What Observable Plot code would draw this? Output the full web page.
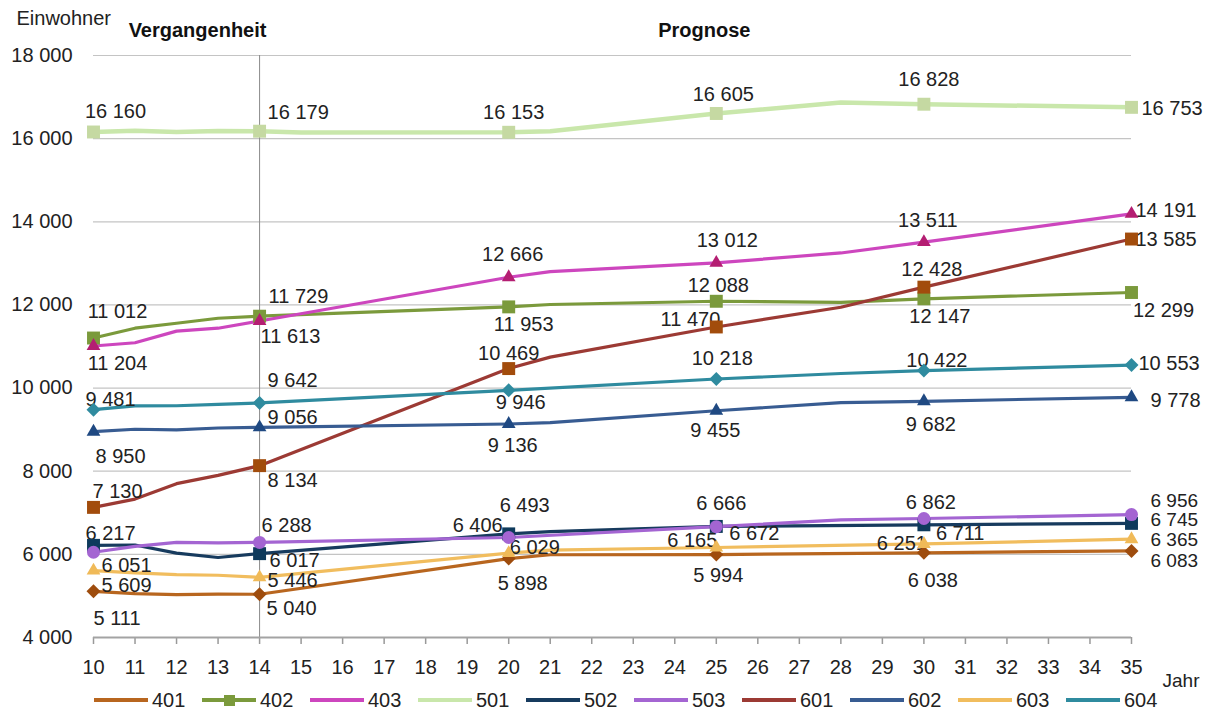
<!DOCTYPE html>
<html><head><meta charset="utf-8">
<script src="https://cdn.jsdelivr.net/npm/d3@7"></script>
<script src="https://cdn.jsdelivr.net/npm/@observablehq/plot@0.6"></script>
<style>
body{margin:0;background:#fff;font-family:"Liberation Sans",Arial,sans-serif;}
#wrap{position:relative;width:1208px;height:710px;}
#legend{position:absolute;left:0;top:690px;width:1208px;height:20px;}
.item{position:absolute;top:0;height:20px;display:flex;align-items:center;}
.sw{position:relative;width:54px;height:4px;}
.mk{position:absolute;width:11px;height:11px;left:21.5px;top:-3.5px;}
.lab{font-size:20px;color:#222;margin-left:4px;line-height:20px;}
</style></head><body>
<div id="wrap"><div id="chart"></div><div id="legend"></div></div>
<script>
// ---- data ----
const seriesNames = ["401","402","403","501","502","503","601","602","603","604"];
const markerYears = [10, 14, 20, 25, 30, 35];
const yTicks = [4000, 6000, 8000, 10000, 12000, 14000, 16000, 18000];
const xTicks = [10,11,12,13,14,15,16,17,18,19,20,21,22,23,24,25,26,27,28,29,30,31,32,33,34,35];

const years401 = [10,11,12,13,14,20,21,25,30,35];
const pop401   = [5111,5055,5030,5045,5040,5898,5990,5994,6038,6083];
const years402 = [10,11,12,13,14,20,21,25,28,30,35];
const pop402   = [11204,11440,11560,11680,11729,11953,12010,12088,12060,12147,12299];
const years403 = [10,11,12,13,14,20,21,25,28,30,35];
const pop403   = [11012,11090,11370,11440,11613,12666,12800,13012,13250,13511,14191];
const years501 = [10,11,12,13,14,15,20,21,25,28,30,35];
const pop501   = [16160,16190,16160,16185,16179,16150,16153,16180,16605,16870,16828,16753];
const years502 = [10,11,12,13,14,20,21,25,30,35];
const pop502   = [6217,6225,6030,5925,6017,6493,6545,6672,6711,6745];
const years503 = [10,11,12,13,14,20,25,28,30,35];
const pop503   = [6051,6190,6290,6275,6288,6406,6666,6830,6862,6956];
const years601 = [10,11,12,13,14,20,21,25,28,30,35];
const pop601   = [7130,7330,7700,7900,8134,10469,10744,11470,11944,12428,13585];
const years602 = [10,11,12,13,14,20,21,25,28,30,35];
const pop602   = [8950,9010,8995,9040,9056,9136,9170,9455,9650,9682,9778];
const years603 = [10,11,12,13,14,20,21,25,30,35];
const pop603   = [5609,5553,5513,5497,5446,6029,6100,6165,6251,6365];
const years604 = [10,11,12,13,14,20,25,28,30,35];
const pop604   = [9481,9570,9575,9610,9642,9946,10218,10350,10422,10553];

const seriesYears = {"401":years401,"402":years402,"403":years403,"501":years501,"502":years502,"503":years503,"601":years601,"602":years602,"603":years603,"604":years604};
const seriesPop   = {"401":pop401,"402":pop402,"403":pop403,"501":pop501,"502":pop502,"503":pop503,"601":pop601,"602":pop602,"603":pop603,"604":pop604};

// ---- styles ----
const lineColor = {"401":"#B8661F","402":"#7B9A3C","403":"#CD46BE","501":"#C9E7AB","502":"#173B5E","503":"#A465D2","601":"#9C3A34","602":"#385C92","603":"#F1BD5E","604":"#2F8B9F"};
const markColor = {"401":"#9E4C0D","402":"#7B9A3C","403":"#B41E72","501":"#C5D9A2","502":"#0E3A5C","503":"#A465D2","601":"#A24C0C","602":"#1F4982","603":"#F0BA58","604":"#2F8B9F"};
const markSymbol = {"401":"diamond2","402":"square","403":"triangle","501":"square","502":"square","503":"circle","601":"square","602":"triangle","603":"triangle","604":"diamond2"};
const symbolR = {diamond2: 6.3, square: 7.3, triangle: 5.1, circle: 6.5};

// label placement per series at markerYears: [anchor, dx, dy, fontSize]
const labelLayout = {
  "401": [["start",0,27],["start",7,14],["middle",14,25],["middle",2,21],["middle",9,28],["start",19,10,19]],
  "402": [["middle",24,26],["start",9,-20],["middle",15,18],["middle",2,-16],["middle",16,18],["middle",32,18]],
  "403": [["middle",24,-34],["start",1,16],["middle",4,-23],["middle",11,-22],["middle",4,-22],["start",4,-3]],
  "501": [["middle",22,-20],["start",8,-19],["middle",5,-20],["middle",7,-19],["middle",5,-25],["start",10,1]],
  "502": [["start",-8,-12],["start",10,7],["middle",16,-28],["start",13,7],["start",12,9],["start",19,-3,19]],
  "503": [["start",8,13],["start",2,-17],["end",-6,-12],["middle",5,-23],["middle",7,-16],["start",19,-14,19]],
  "601": [["start",-1,-16],["start",8,15],["middle",0,-15],["end",4,-7],["middle",8,-18],["start",4,1]],
  "602": [["middle",27,25],["start",8,-10],["middle",4,22],["middle",-1,20],["middle",7,23],["start",19,3]],
  "603": [["start",8,15],["start",8,3],["start",1,-6],["end",1,-7],["end",3,0],["start",19,1,19]],
  "604": [["start",-8,-10],["start",8,-22],["middle",12,12],["middle",6,-20],["middle",13,-10],["start",7,-1]]
};

const fmt = d3.formatLocale({decimal: ",", thousands: " ", grouping: [3], currency: ["", ""]}).format(",d");
const FONT = "'Liberation Sans', Arial, sans-serif";

const rows = [];
for (const s of seriesNames) {
  seriesYears[s].forEach((y, i) => rows.push({series: s, year: y, value: seriesPop[s][i]}));
}
const markerRows = rows.filter(d => markerYears.includes(d.year));

const marks = [];
// grid
marks.push(Plot.ruleY(yTicks.filter(v => v > 4000), {y: d => d, stroke: "#c4c4c4", strokeWidth: 1.2}));
marks.push(Plot.ruleX([14], {x: d => d, y1: 4000, y2: 18000, stroke: "#8a8a8a", strokeWidth: 1}));
marks.push(Plot.ruleY([4000], {y: d => d, stroke: "#a3a3a3", strokeWidth: 2}));
// lines
for (const s of seriesNames) {
  marks.push(Plot.line(rows.filter(d => d.series === s), {
    x: "year", y: "value", stroke: lineColor[s], strokeWidth: s === "501" ? 4.5 : 3.2,
    strokeLinejoin: "round", strokeLinecap: "round"
  }));
}
// labels
for (const s of seriesNames) {
  markerYears.forEach((yr, i) => {
    const d = markerRows.find(r => r.series === s && r.year === yr);
    const [anchor, dx, dy, fs] = labelLayout[s][i];
    marks.push(Plot.text([d], {x: "year", y: "value", text: r => fmt(r.value), textAnchor: anchor, dx, dy, fontSize: fs || 20, fill: "#222"}));
  });
}
// markers
for (const s of seriesNames) {
  const sym = markSymbol[s];
  marks.push(Plot.dot(markerRows.filter(d => d.series === s), {
    x: "year", y: "value", symbol: sym, r: symbolR[sym], fill: markColor[s], stroke: "none"
  }));
}
// header texts
marks.push(Plot.text(["Einwohner"], {x: 10, y: 18000, text: d => d, textAnchor: "start", dx: -77, dy: -37, fontSize: 20, fill: "#222"}));
marks.push(Plot.text(["Vergangenheit"], {x: 12, y: 18000, text: d => d, textAnchor: "middle", dx: 21, dy: -25, fontSize: 20, fontWeight: "bold", fill: "#111"}));
marks.push(Plot.text(["Prognose"], {x: 25, y: 18000, text: d => d, textAnchor: "middle", dx: -12, dy: -25, fontSize: 20, fontWeight: "bold", fill: "#111"}));
marks.push(Plot.text(["Jahr"], {x: 35, y: 4000, text: d => d, textAnchor: "start", dx: 31, dy: 43, fontSize: 19, fill: "#222"}));

const chart = Plot.plot({
  width: 1208, height: 690,
  marginLeft: 93, marginRight: 77, marginTop: 55, marginBottom: 53,
  x: {domain: [10, 35], ticks: xTicks, tickFormat: d => String(d), tickSize: 7, tickPadding: 15, label: null},
  y: {domain: [4000, 18000], ticks: yTicks, tickFormat: fmt, tickSize: 0, tickPadding: 21, label: null},
  style: {fontFamily: FONT, fontSize: "20px", color: "#222", background: "#fff", overflow: "visible"},
  marks
});
document.getElementById("chart").appendChild(chart);
// soften x tick marks
chart.querySelectorAll('g[aria-label="x-axis tick"]').forEach(g => { g.setAttribute("stroke", "#999"); g.setAttribute("stroke-width", "1.5"); });
chart.querySelectorAll('g[aria-label="x-axis"] .tick line').forEach(l => l.setAttribute("stroke", "#999"));

// legend
const legend = document.getElementById("legend");
seriesNames.forEach((s, i) => {
  const it = document.createElement("div");
  it.className = "item";
  it.style.left = (94 + 108 * i) + "px";
  const sw = document.createElement("div");
  sw.className = "sw";
  sw.style.background = lineColor[s];
  if (s === "402") {
    const mk = document.createElement("div");
    mk.className = "mk";
    mk.style.background = markColor[s];
    sw.appendChild(mk);
  }
  const lab = document.createElement("span");
  lab.className = "lab";
  lab.textContent = s;
  it.appendChild(sw); it.appendChild(lab);
  legend.appendChild(it);
});
</script>
</body></html>
